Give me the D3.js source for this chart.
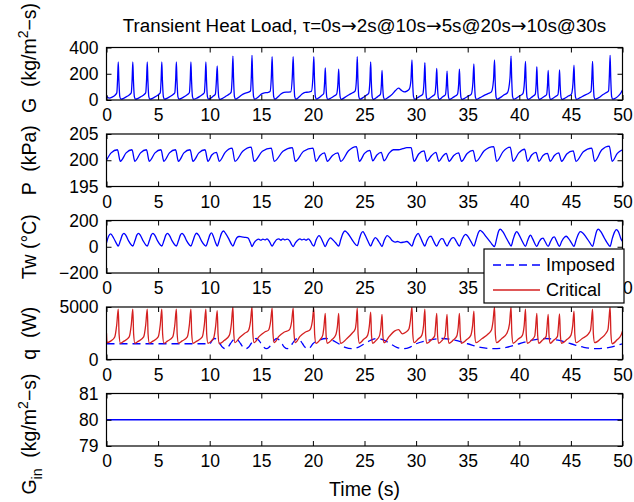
<!DOCTYPE html>
<html><head><meta charset="utf-8">
<script src="https://cdn.jsdelivr.net/npm/d3@7"></script>
<style>
html,body{margin:0;padding:0;background:#fff;}
svg{display:block;font-family:"Liberation Sans",Arial,Helvetica,sans-serif;}
</style></head>
<body><svg id="chart" width="634" height="502"></svg>
<script>
// ---------------- data ----------------
const titleText = "Transient Heat Load, \u03c4=0s\u21922s@10s\u21925s@20s\u219210s@30s";
const xTicks = [0,5,10,15,20,25,30,35,40,45,50];
const gTicks = [0,200,400];
const pTicks = [195,200,205];
const twTicks = [-200,0,200];
const qTicks = [0,5000];
const ginTicks = [79,80,81];

// mass flux G (kg/m^2-s) : [time, value]
const gSeries = [
[0,30],[0.25,15],[0.55,22],[0.85,38],[1.0,55],[1.07,150],[1.14,290],
[1.2,150],[1.29,25],[1.4,6],[1.7,14],[2.0,28],[2.25,42],[2.4,55],[2.48,150],[2.55,290],
[2.61,150],[2.7,25],[2.8,6],[3.1,14],[3.4,28],[3.65,42],[3.8,55],[3.88,150],[3.95,290],
[4.01,150],[4.1,25],[4.2,6],[4.5,14],[4.8,28],[5.05,42],[5.21,55],[5.29,150],[5.36,290],
[5.42,150],[5.51,25],[5.61,6],[5.9,14],[6.2,28],[6.45,42],[6.62,55],[6.7,150],[6.77,290],
[6.83,150],[6.92,25],[7.02,6],[7.3,14],[7.6,28],[7.85,42],[8.03,55],[8.11,150],[8.18,290],
[8.24,150],[8.33,25],[8.43,6],[8.75,14],[9.05,28],[9.3,42],[9.48,55],[9.56,150],[9.63,290],
[9.69,150],[9.78,25],[9.88,6],[10.1,14],[10.35,30],[10.55,45],[10.63,120],[10.73,260],
[10.79,130],[10.88,20],[10.98,5],[11.3,15],[11.6,30],[11.9,45],[12.08,60],[12.17,160],[12.25,335],
[12.31,170],[12.4,25],[12.5,6],[12.8,20],[13.1,38],[13.4,50],[13.7,58],[13.95,68],[14.03,170],[14.1,340],
[14.16,170],[14.25,25],[14.35,6],[14.7,22],[15.0,45],[15.3,55],[15.6,57],[15.85,65],[15.97,170],[16.05,330],
[16.11,170],[16.2,25],[16.3,6],[16.6,22],[16.9,45],[17.2,58],[17.5,60],[17.85,62],[18.0,170],[18.09,330],
[18.15,170],[18.24,25],[18.34,6],[18.65,22],[18.95,45],[19.25,58],[19.55,60],[19.85,65],[20.0,170],[20.09,330],
[20.15,170],[20.24,25],[20.34,6],[20.6,18],[20.85,35],[21.05,50],[21.13,130],[21.2,245],
[21.26,120],[21.35,20],[21.45,5],[21.75,15],[22.05,30],[22.3,45],[22.42,120],[22.5,235],
[22.56,110],[22.65,20],[22.75,5],[23.1,20],[23.5,40],[23.85,55],[24.1,70],[24.22,160],[24.3,330],
[24.36,160],[24.45,25],[24.55,6],[24.85,18],[25.15,35],[25.4,50],[25.52,140],[25.6,290],
[25.66,140],[25.75,20],[25.85,5],[26.1,15],[26.35,30],[26.55,45],[26.63,110],[26.7,225],
[26.76,110],[26.85,20],[26.95,5],[27.3,20],[27.7,45],[28.0,72],[28.3,90],[28.6,72],[28.85,62],[29.1,68],[29.35,85],[29.5,150],[29.6,305],
[29.66,150],[29.75,25],[29.85,6],[30.1,15],[30.4,30],[30.65,45],[30.77,140],[30.85,285],
[30.91,140],[31.0,20],[31.1,5],[31.35,15],[31.6,30],[31.82,45],[31.92,120],[32.0,240],
[32.06,120],[32.15,20],[32.25,5],[32.45,15],[32.65,28],[32.85,42],[32.93,110],[33.0,220],
[33.06,110],[33.15,18],[33.25,5],[33.5,15],[33.75,28],[34.0,42],[34.12,115],[34.2,235],
[34.26,115],[34.35,18],[34.45,5],[34.75,15],[35.05,30],[35.35,45],[35.5,130],[35.6,275],
[35.66,130],[35.75,20],[35.85,5],[36.2,18],[36.6,35],[37.0,50],[37.3,62],[37.5,150],[37.6,305],
[37.66,150],[37.75,22],[37.85,6],[38.15,18],[38.5,38],[38.85,55],[39.1,170],[39.2,335],
[39.26,170],[39.35,25],[39.45,6],[39.75,16],[40.05,32],[40.35,48],[40.5,140],[40.6,295],
[40.66,140],[40.75,20],[40.85,5],[41.1,15],[41.35,30],[41.55,45],[41.63,120],[41.7,255],
[41.76,120],[41.85,20],[41.95,5],[42.2,15],[42.45,28],[42.65,42],[42.73,110],[42.8,225],
[42.86,110],[42.95,18],[43.05,5],[43.3,15],[43.55,28],[43.75,42],[43.83,110],[43.9,230],
[43.96,110],[44.05,18],[44.15,5],[44.45,15],[44.75,30],[45.05,45],[45.2,125],[45.3,265],
[45.36,125],[45.45,20],[45.55,5],[45.9,18],[46.3,35],[46.7,50],[46.95,65],[47.02,150],[47.1,295],
[47.16,150],[47.25,22],[47.35,6],[47.7,18],[48.05,38],[48.4,55],[48.65,70],[48.72,170],[48.8,340],
[48.86,170],[48.95,25],[49.05,6],[49.35,15],[49.65,35],[49.85,55],[50,75]
];

// pressure P (kPa)
const pSeries = [
[0,200.0],[0.45,201.4],[1.06,202.0],
[1.34,199.8],[1.9,201.4],[2.47,202.0],
[2.75,199.8],[3.3,201.4],[3.87,202.0],
[4.15,199.8],[4.7,201.4],[5.28,202.0],
[5.56,199.8],[6.1,201.4],[6.69,202.0],
[6.97,199.8],[7.5,201.4],[8.1,202.0],
[8.38,199.8],[8.95,201.4],[9.55,202.0],
[9.83,199.8],[10.2,201.0],[10.65,201.5],
[10.93,199.8],[11.5,201.5],[12.17,202.3],
[12.45,199.8],[13.2,201.7],[14.02,202.5],
[14.3,199.8],[15.1,201.7],[15.97,202.3],
[16.25,199.8],[17.1,201.7],[18.01,202.4],
[18.29,199.8],[19.1,201.7],[20.01,202.3],
[20.29,199.8],[20.7,200.9],[21.12,201.4],
[21.4,199.8],[21.9,200.9],[22.42,201.4],
[22.7,199.8],[23.45,201.8],[24.22,202.6],
[24.5,199.8],[25.0,201.3],[25.52,201.9],
[25.8,199.9],[26.2,201.0],[26.62,201.5],
[26.9,199.9],[27.4,201.4],[27.8,202.0],[28.3,202.0],[28.7,202.2],[29.1,202.4],[29.52,202.4],
[29.8,199.8],[30.25,201.2],[30.77,201.8],
[31.05,199.8],[31.5,200.9],[31.92,201.5],
[32.2,199.8],[32.6,200.8],[32.92,201.3],
[33.2,199.8],[33.65,200.9],[34.12,201.4],
[34.4,199.8],[34.95,201.3],[35.52,201.9],
[35.8,199.8],[36.6,201.8],[37.52,202.6],
[37.8,199.8],[38.45,201.7],[39.12,202.5],
[39.4,199.8],[39.95,201.4],[40.52,202.1],
[40.8,199.8],[41.2,201.0],[41.62,201.5],
[41.9,199.8],[42.3,200.9],[42.72,201.3],
[43.0,199.8],[43.4,200.9],[43.82,201.4],
[44.1,199.8],[44.6,201.2],[45.22,201.8],
[45.5,199.8],[46.2,201.6],[47.02,202.3],
[47.3,199.8],[48.0,202.0],[48.72,202.7],
[49.0,199.8],[49.5,201.3],[50,202.0]
];

// wall temperature Tw (°C)
const twSeries = [
[0,30],[0.2,80],[0.4,98],[0.7,65],[1.0,20],[1.14,5],
[1.34,45],[1.54,90],[1.69,102],[1.89,85],[2.14,45],[2.45,10],[2.55,5],
[2.75,45],[2.95,90],[3.1,102],[3.3,85],[3.55,45],[3.85,10],[3.95,5],
[4.15,45],[4.35,90],[4.5,102],[4.7,85],[4.95,45],[5.26,10],[5.36,5],
[5.56,45],[5.76,90],[5.91,102],[6.11,85],[6.36,45],[6.67,10],[6.77,5],
[6.97,45],[7.17,90],[7.32,102],[7.52,85],[7.77,45],[8.08,10],[8.18,5],
[8.38,45],[8.58,90],[8.73,103],[8.93,88],[9.2,45],[9.53,10],[9.63,5],
[9.83,45],[10.03,92],[10.18,105],[10.35,80],[10.55,35],[10.73,5],
[10.93,50],[11.13,100],[11.33,120],[11.55,100],[11.85,60],[12.1,20],[12.25,5],
[12.45,40],[12.65,70],[12.85,78],[13.1,75],[13.4,72],[13.7,68],[13.95,30],[14.1,2],
[14.3,30],[14.55,52],[14.75,58],[14.95,50],[15.15,58],[15.35,52],[15.55,60],[15.75,45],[15.95,15],[16.05,5],
[16.25,30],[16.5,55],[16.7,60],[16.9,50],[17.1,60],[17.3,52],[17.5,58],[17.75,45],[17.95,15],[18.09,2],
[18.3,30],[18.55,52],[18.75,60],[18.95,52],[19.15,58],[19.35,50],[19.55,60],[19.75,45],[19.95,15],[20.09,5],
[20.3,50],[20.6,85],[20.8,65],[21.0,30],[21.2,2],
[21.4,35],[21.7,68],[21.9,55],[22.2,30],[22.5,5],
[22.7,55],[22.9,100],[23.1,120],[23.35,105],[23.7,65],[24.0,30],[24.3,8],
[24.5,60],[24.7,105],[24.85,115],[25.05,90],[25.35,40],[25.6,5],
[25.8,40],[26.05,70],[26.25,55],[26.5,25],[26.7,2],
[26.9,45],[27.2,85],[27.45,70],[27.7,45],[27.95,35],[28.2,40],[28.5,32],[28.8,35],[29.1,40],[29.35,25],[29.6,5],
[29.8,50],[30.05,90],[30.2,102],[30.4,75],[30.65,30],[30.85,5],
[31.05,45],[31.3,78],[31.45,80],[31.65,50],[32.0,5],
[32.2,35],[32.45,62],[32.6,60],[32.8,30],[33.0,5],
[33.2,35],[33.5,68],[33.65,70],[33.9,40],[34.2,5],
[34.4,45],[34.65,85],[34.8,95],[35.05,75],[35.35,35],[35.6,5],
[35.8,50],[36.05,110],[36.2,125],[36.45,110],[36.8,75],[37.2,35],[37.6,2],
[37.8,60],[38.0,120],[38.15,135],[38.4,115],[38.75,65],[39.0,30],[39.2,5],
[39.4,55],[39.6,100],[39.75,115],[39.95,95],[40.3,40],[40.6,3],
[40.8,45],[41.0,82],[41.1,88],[41.3,60],[41.7,3],
[41.9,35],[42.15,62],[42.3,65],[42.5,40],[42.8,3],
[43.0,35],[43.25,70],[43.4,75],[43.6,45],[43.9,3],
[44.1,40],[44.4,75],[44.55,80],[44.8,60],[45.05,30],[45.3,3],
[45.5,50],[45.75,100],[45.9,115],[46.15,105],[46.5,70],[46.8,35],[47.1,3],
[47.3,60],[47.5,120],[47.65,135],[47.9,115],[48.25,65],[48.55,25],[48.8,3],
[49.0,60],[49.25,115],[49.4,130],[49.6,115],[49.85,60],[50,40]
];

// imposed heat load q (W)
const qImposed = [
[0,1500],[10,1500],[10.25,1840],[10.5,2000],[10.75,1840],[11,1500],[11.25,1160],[11.5,1030],[11.75,1160],
[12,1500],[12.25,1840],[12.5,2000],[12.75,1840],[13,1500],[13.25,1160],[13.5,1030],[13.75,1160],
[14,1500],[14.25,1840],[14.5,2000],[14.75,1840],[15,1500],[15.25,1160],[15.5,1030],[15.75,1160],
[16,1500],[16.25,1840],[16.5,2000],[16.75,1840],[17,1500],[17.25,1160],[17.5,1030],[17.75,1160],
[18,1500],[18.25,1840],[18.5,2000],[18.75,1840],[19,1500],[19.25,1160],[19.5,1030],[19.75,1160],
[20,1500],[20.625,1840],[21.25,2000],[21.875,1840],[22.5,1500],[23.125,1160],[23.75,1030],[24.375,1160],
[25,1500],[25.625,1840],[26.25,2000],[26.875,1840],[27.5,1500],[28.125,1160],[28.75,1030],[29.375,1160],
[30,1500],[31.25,1840],[32.5,2000],[33.75,1840],[35,1500],[36.25,1160],[37.5,1030],[38.75,1160],
[40,1500],[41.25,1840],[42.5,2000],[43.75,1840],[45,1500],[46.25,1160],[47.5,1030],[48.75,1160],[50,1500]
];

// critical heat load q (W)
const qCritical = [
[0,2500],[0.05,1600],[0.4,1750],[0.8,2150],[0.99,3300],[1.14,4800],
[1.22,2400],[1.34,1550],[1.7,1750],[2.2,2150],[2.4,3300],[2.55,4800],
[2.63,2400],[2.75,1550],[3.1,1750],[3.6,2150],[3.8,3300],[3.95,4800],
[4.03,2400],[4.15,1550],[4.5,1750],[5.01,2150],[5.21,3300],[5.36,4800],
[5.44,2400],[5.56,1550],[5.9,1750],[6.42,2150],[6.62,3300],[6.77,4800],
[6.85,2400],[6.97,1550],[7.3,1750],[7.83,2150],[8.03,3300],[8.18,4800],
[8.26,2400],[8.38,1550],[8.75,1750],[9.28,2150],[9.48,3300],[9.63,4800],
[9.71,2400],[9.83,1550],[10.15,1750],[10.4,2100],[10.58,3200],[10.73,4650],
[10.81,2400],[10.93,1500],[11.4,1800],[11.9,2300],[12.1,3400],[12.25,5000],
[12.33,2500],[12.45,1600],[12.9,2100],[13.4,2500],[13.75,2750],[13.95,3600],[14.1,5000],
[14.18,2500],[14.3,1600],[14.8,2200],[15.3,2600],[15.7,2800],[15.9,3600],[16.05,4900],
[16.13,2500],[16.25,1600],[16.7,2200],[17.2,2600],[17.7,2800],[17.94,3600],[18.09,4900],
[18.17,2500],[18.29,1600],[18.75,2200],[19.25,2600],[19.7,2800],[19.94,3600],[20.09,4900],
[20.17,2400],[20.29,1550],[20.7,1900],[20.95,2300],[21.07,3100],[21.2,4400],
[21.28,2300],[21.4,1550],[21.85,1900],[22.2,2300],[22.37,3100],[22.5,4400],
[22.58,2300],[22.7,1550],[23.3,2000],[23.8,2500],[24.1,2900],[24.2,3600],[24.3,4900],
[24.38,2400],[24.5,1550],[24.9,1900],[25.3,2300],[25.47,3200],[25.6,4500],
[25.68,2300],[25.8,1550],[26.15,1850],[26.45,2250],[26.58,3000],[26.7,4300],
[26.78,2300],[26.9,1600],[27.4,2200],[27.9,2700],[28.3,2850],[28.65,2450],[29.0,2600],[29.3,2900],[29.45,3700],[29.6,5000],
[29.68,2400],[29.8,1600],[30.2,1950],[30.55,2300],[30.72,3200],[30.85,4800],
[30.93,2300],[31.05,1550],[31.5,1900],[31.8,2250],[31.88,3100],[32.0,4400],
[32.08,2300],[32.2,1550],[32.55,1850],[32.8,2200],[32.88,3000],[33.0,4300],
[33.08,2300],[33.2,1550],[33.6,1850],[33.95,2250],[34.08,3050],[34.2,4400],
[34.28,2300],[34.4,1550],[34.9,1900],[35.3,2300],[35.47,3200],[35.6,4600],
[35.68,2400],[35.8,1600],[36.4,2000],[37.0,2450],[37.3,2800],[37.45,3600],[37.6,5000],
[37.68,2400],[37.8,1600],[38.3,2000],[38.8,2500],[39.05,3400],[39.2,5000],
[39.28,2400],[39.4,1550],[39.9,1950],[40.3,2300],[40.47,3200],[40.6,4800],
[40.68,2300],[40.8,1550],[41.2,1850],[41.5,2250],[41.58,3000],[41.7,4400],
[41.78,2300],[41.9,1550],[42.25,1850],[42.6,2200],[42.68,3000],[42.8,4300],
[42.88,2300],[43.0,1550],[43.35,1850],[43.7,2200],[43.78,3000],[43.9,4350],
[43.98,2300],[44.1,1550],[44.6,1900],[45.0,2300],[45.17,3200],[45.3,4600],
[45.38,2400],[45.5,1600],[46.1,2000],[46.7,2450],[46.9,2800],[46.98,3500],[47.1,4800],
[47.18,2400],[47.3,1600],[47.9,2000],[48.4,2500],[48.6,2900],[48.67,3600],[48.8,5000],
[48.88,2400],[49.0,1500],[49.5,1900],[49.85,2300],[50,2700]
];

// inlet mass flux G_in (kg/m^2-s)
const ginSeries = [[0,80],[10,80],[20,80],[30,80],[40,80],[50,80]];

// ---------------- layout ----------------
const W = 634, H = 502;
const L = 106.5, R = 622.5;
const panelTop = [47.5, 134, 220.5, 307, 393.5];
const panelH = 52.5;
const FS = 17.5;      // tick size
const TFS = 18.8;     // title size
const LFS = 19.5;     // axis label size
const BLUE = "#0000ff", RED = "#d42020";
const labelCenters = [58, 160.25, 246.75, 333.25, 434];

const svg = d3.select("#chart");
svg.append("rect").attr("width",W).attr("height",H).attr("fill","#fff");

const x = d3.scaleLinear().domain([0,50]).range([L,R]);

const panels = [
  {domain:[0,400], ticks:gTicks, series:[{data:gSeries,color:BLUE}], label:"G"},
  {domain:[195,205], ticks:pTicks, series:[{data:pSeries,color:BLUE}], label:"P"},
  {domain:[-200,200], ticks:twTicks, series:[{data:twSeries,color:BLUE}], label:"Tw", hideX:[40,45]},
  {domain:[0,5000], ticks:qTicks, series:[{data:qImposed,color:BLUE,dash:"8,5"},{data:qCritical,color:RED}], label:"q"},
  {domain:[79,81], ticks:ginTicks, series:[{data:ginSeries,color:BLUE}], label:"Gin"}
];

const defs = svg.append("defs");

panels.forEach((p,i)=>{
  const top = panelTop[i], bot = top + panelH;
  const y = d3.scaleLinear().domain(p.domain).range([bot, top]);
  const g = svg.append("g");
  defs.append("clipPath").attr("id","clip"+i).append("rect")
    .attr("x",L).attr("y",top).attr("width",R-L).attr("height",panelH);

  const line = d3.line().x(d=>x(d[0])).y(d=>y(d[1])).curve(d3.curveMonotoneX);
  const plot = g.append("g").attr("clip-path","url(#clip"+i+")");
  p.series.forEach(s=>{
    plot.append("path").datum(s.data).attr("d",line)
      .attr("fill","none").attr("stroke",s.color).attr("stroke-width",1.3)
      .attr("stroke-linejoin","round")
      .attr("stroke-dasharray",s.dash||null);
  });

  const hide = p.hideX || [];
  const ax = g.append("g").attr("class","axes");
  ax.append("g").attr("transform",`translate(0,${bot})`)
    .call(d3.axisBottom(x).tickValues(xTicks).tickSize(-5).tickPadding(9)
      .tickFormat(d=> hide.includes(d) ? "" : d3.format("d")(d)));
  ax.append("g").attr("transform",`translate(0,${top})`)
    .call(d3.axisTop(x).tickValues(xTicks).tickSize(-5).tickFormat(""));
  const yl = ax.append("g").attr("transform",`translate(${L},0)`)
    .call(d3.axisLeft(y).tickValues(p.ticks).tickSize(-5).tickPadding(8).tickFormat(d3.format("d")));
  ax.append("g").attr("transform",`translate(${R},0)`)
    .call(d3.axisRight(y).tickValues(p.ticks).tickSize(-5).tickFormat(""));
  ax.selectAll(".domain").remove();
  ax.selectAll(".tick line").attr("stroke","#000").attr("stroke-width",1);
  ax.selectAll(".tick text").attr("font-size",FS).attr("font-family","'Liberation Sans',Arial,sans-serif").attr("fill","#000");
  ax.selectAll(".tick text").filter(function(){ return this.textContent===""; }).remove();
  yl.selectAll(".tick text").text(d=> d<0 ? "\u2212"+Math.abs(d) : d);
  ax.append("rect").attr("x",L).attr("y",top).attr("width",R-L).attr("height",panelH)
    .attr("fill","none").attr("stroke","#000").attr("stroke-width",1.2);

  // y label
  const cy = labelCenters[i];
  const lab = svg.append("text").attr("font-size",LFS).attr("text-anchor","middle")
    .attr("transform",`translate(36,${cy}) rotate(-90)`).attr("fill","#000")
    .attr("xml:space","preserve").style("white-space","pre");
  if (p.label==="G") {
    lab.append("tspan").text("G  (kg/m");
    lab.append("tspan").attr("font-size",LFS*0.72).attr("dy",-8).text("2");
    lab.append("tspan").attr("dy",8).text("\u2212s)");
  } else if (p.label==="Gin") {
    lab.append("tspan").text("G");
    lab.append("tspan").attr("font-size",LFS*0.72).attr("dy",6).text("in");
    lab.append("tspan").attr("dy",-6).text("  (kg/m");
    lab.append("tspan").attr("font-size",LFS*0.72).attr("dy",-8).text("2");
    lab.append("tspan").attr("dy",8).text("\u2212s)");
  } else if (p.label==="P") {
    lab.text("P  (kPa)");
  } else if (p.label==="Tw") {
    lab.text("Tw (\u00b0C)");
  } else {
    lab.text("q  (W)");
  }
});

// title (arrows drawn with DejaVu Sans for a full-size glyph)
const tt = svg.append("text").attr("x",(L+R)/2).attr("y",32).attr("text-anchor","middle")
  .attr("font-size",TFS).attr("fill","#000");
titleText.split("\u2192").forEach((part,k)=>{
  if (k>0) tt.append("tspan").attr("font-family","'DejaVu Sans'").text("\u2192");
  tt.append("tspan").text(part);
});

// x label
svg.append("text").attr("x",(L+R)/2).attr("y",496).attr("text-anchor","middle")
  .attr("font-size",LFS).attr("fill","#000").text("Time (s)");

// legend
const lg = svg.append("g");
lg.append("rect").attr("x",484).attr("y",249).attr("width",140).attr("height",54)
  .attr("fill","#fff").attr("stroke","#000").attr("stroke-width",1.2);
const legendItems = [{name:"Imposed",color:BLUE,dash:"8,5"},{name:"Critical",color:RED}];
legendItems.forEach((d,k)=>{
  const yy = 265 + k*25;
  lg.append("line").attr("x1",493).attr("x2",540).attr("y1",yy).attr("y2",yy)
    .attr("stroke",d.color).attr("stroke-width",1.3).attr("stroke-dasharray",d.dash||null);
  lg.append("text").attr("x",546).attr("y",yy+6).attr("font-size",18).attr("fill","#000").text(d.name);
});
</script></body></html>
